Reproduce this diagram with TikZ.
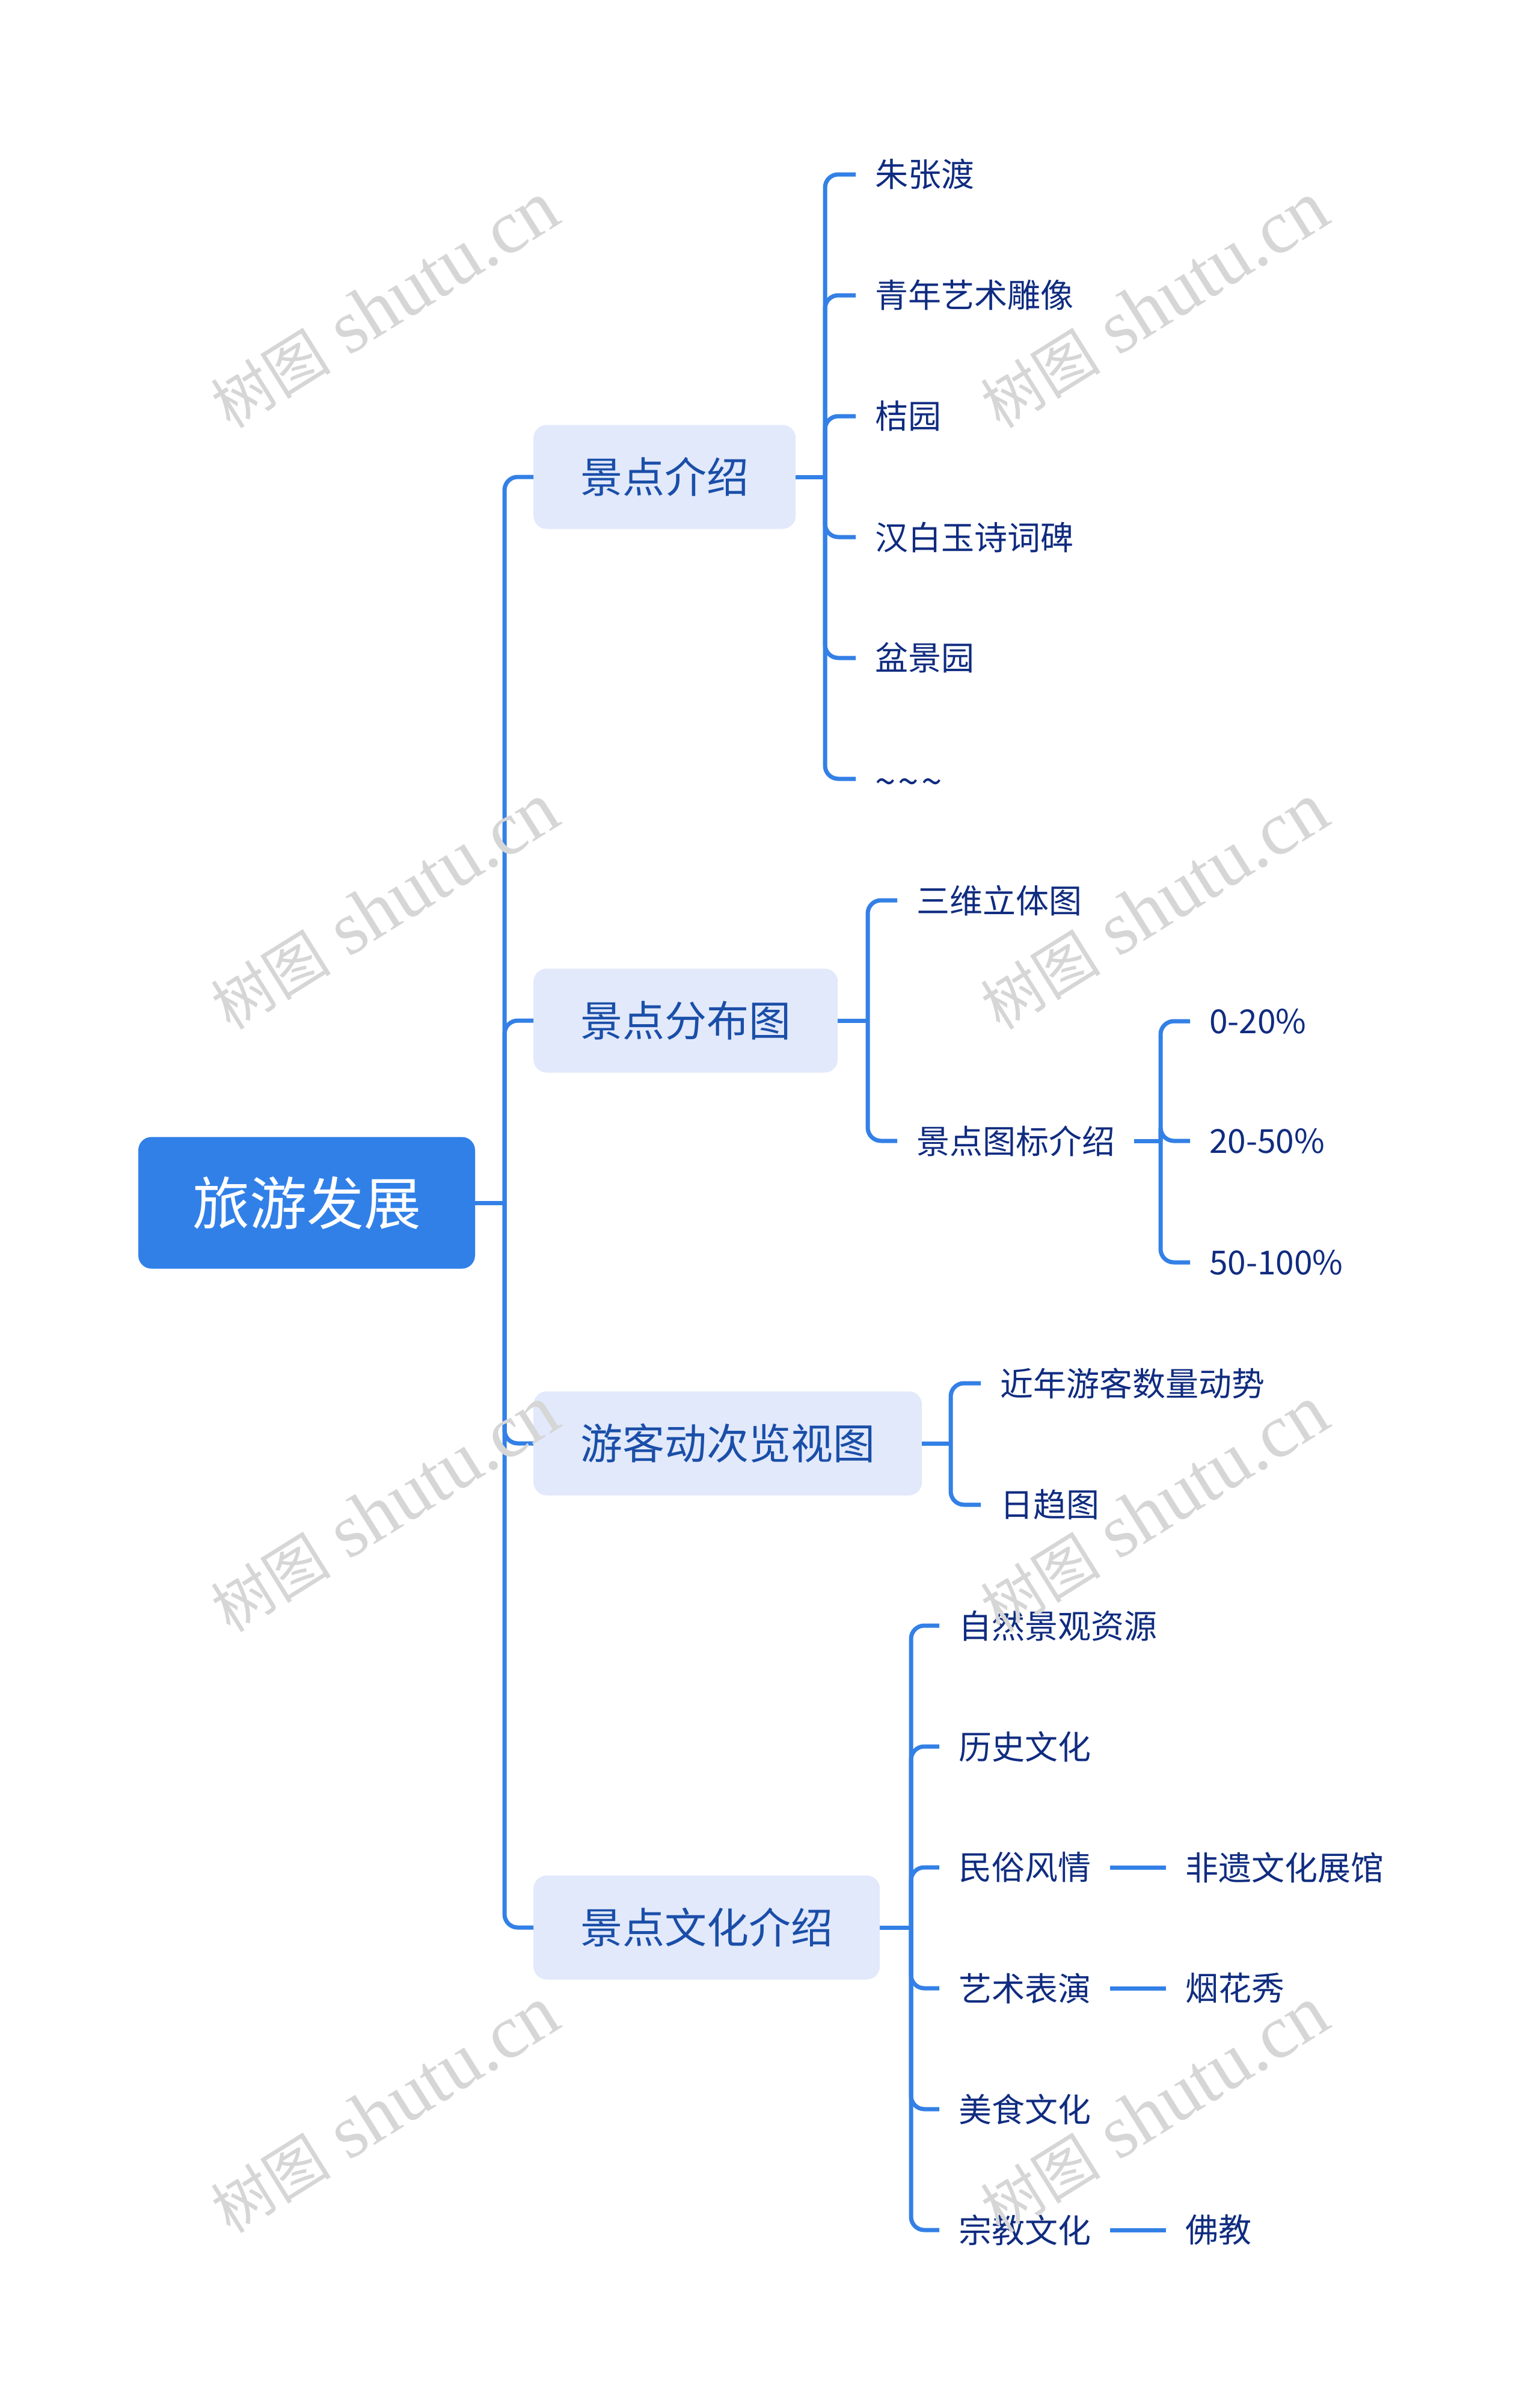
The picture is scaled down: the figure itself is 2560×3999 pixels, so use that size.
\documentclass[tikz,border=0pt]{standalone}
\usepackage{fontspec}
\setmainfont{Noto Sans CJK SC}
\newfontfamily\wmlatinfont{Liberation Serif}
\newfontfamily\wmcjkfont{Noto Sans CJK SC}
\definecolor{lineblue}{RGB}{51,128,230}
\definecolor{rootblue}{RGB}{49,128,232}
\definecolor{branchfill}{RGB}{226,233,251}
\definecolor{branchtext}{RGB}{26,78,168}
\definecolor{leaftext}{RGB}{16,44,128}
\definecolor{wmgray}{RGB}{214,214,214}
\begin{document}
\begin{tikzpicture}[x=1pt,y=-1pt,
  conn/.style={draw=lineblue, line width=7pt, rounded corners=22pt},
  rootbox/.style={fill=rootblue, rounded corners=22pt, text=white,
    font=\fontsize{95}{110}\selectfont, minimum height=219pt, inner xsep=90pt},
  branchbox/.style={fill=branchfill, rounded corners=22pt, text=branchtext,
    font=\fontsize{70}{84}\selectfont, minimum height=173pt, inner xsep=78pt, anchor=west},
  leaf/.style={text=leaftext, font=\fontsize{55}{66}\selectfont,
    inner xsep=32pt, inner ysep=0pt, anchor=west},
  wm/.style={text=wmgray, rotate=32}]
\path[use as bounding box, fill=white] (0,0) rectangle (2560,3999);

% root
\node[rootbox] (root) at (510,2000) {旅游发展};
\coordinate (j0) at (839,2000);

% branches
\node[branchbox] (b1) at (887,793) {景点介绍};
\node[branchbox] (b2) at (887,1697) {景点分布图};
\node[branchbox] (b3) at (887,2400) {游客动次览视图};
\node[branchbox] (b4) at (887,3205) {景点文化介绍};

\draw[conn] (root.east) -- (j0);
\foreach \b in {b1,b2,b3,b4} \draw[conn] (j0) |- (\b.west);

% branch 1 leaves
\coordinate (j1) at (1372,793);
\node[leaf] (l11) at (1423,290) {朱张渡};
\node[leaf] (l12) at (1423,491) {青年艺术雕像};
\node[leaf] (l13) at (1423,692) {桔园};
\node[leaf] (l14) at (1423,893) {汉白玉诗词碑};
\node[leaf] (l15) at (1423,1094) {盆景园};
\node[leaf] (l16) at (1423,1295) {\vphantom{朱}\raisebox{-9pt}{\smash{\fontsize{62}{66}\selectfont\char"7E\hspace{4pt}\char"7E\hspace{4pt}\char"7E}}};
\draw[conn] (b1.east) -- (j1);
\foreach \l in {l11,l12,l13,l14,l15,l16} \draw[conn] (j1) |- (\l.west);

% branch 2 leaves
\coordinate (j2) at (1443,1697);
\node[leaf] (l21) at (1492,1497) {三维立体图};
\node[leaf] (l22) at (1492,1897) {景点图标介绍};
\draw[conn] (b2.east) -- (j2);
\foreach \l in {l21,l22} \draw[conn] (j2) |- (\l.west);

\coordinate (j22) at (1930,1897);
\node[leaf] (g1) at (1979,1698) {0-20\%};
\node[leaf] (g2) at (1979,1897) {20-50\%};
\node[leaf] (g3) at (1979,2099) {50-100\%};
\draw[conn] (l22.east) -- (j22);
\foreach \l in {g1,g2,g3} \draw[conn] (j22) |- (\l.west);

% branch 3 leaves
\coordinate (j3) at (1581,2400);
\node[leaf] (l31) at (1631,2300) {近年游客数量动势};
\node[leaf] (l32) at (1631,2502) {日趋图};
\draw[conn] (b3.east) -- (j3);
\foreach \l in {l31,l32} \draw[conn] (j3) |- (\l.west);

% branch 4 leaves
\coordinate (j4) at (1515,3205);
\node[leaf] (l41) at (1562,2703) {自然景观资源};
\node[leaf] (l42) at (1562,2904) {历史文化};
\node[leaf] (l43) at (1562,3105) {民俗风情};
\node[leaf] (l44) at (1562,3306) {艺术表演};
\node[leaf] (l45) at (1562,3507) {美食文化};
\node[leaf] (l46) at (1562,3708) {宗教文化};
\draw[conn] (b4.east) -- (j4);
\foreach \l in {l41,l42,l43,l44,l45,l46} \draw[conn] (j4) |- (\l.west);

\node[leaf] (m43) at (1939,3105) {非遗文化展馆};
\node[leaf] (m44) at (1939,3306) {烟花秀};
\node[leaf] (m46) at (1939,3708) {佛教};
\draw[conn] (l43.east) -- (m43.west);
\draw[conn] (l44.east) -- (m44.west);
\draw[conn] (l46.east) -- (m46.west);

% watermarks
\foreach \wy [count=\i] in {508,1508,2510,3509}{
  \node[wm] (wl\i) at (640,\wy) {{\wmcjkfont\fontsize{100}{110}\selectfont 树图}\hspace{30pt}{\wmlatinfont\fontsize{126}{130}\selectfont shutu.cn}};
  \node[wm] (wr\i) at (1920,\wy) {{\wmcjkfont\fontsize{100}{110}\selectfont 树图}\hspace{30pt}{\wmlatinfont\fontsize{126}{130}\selectfont shutu.cn}};
}
\end{tikzpicture}
\end{document}
